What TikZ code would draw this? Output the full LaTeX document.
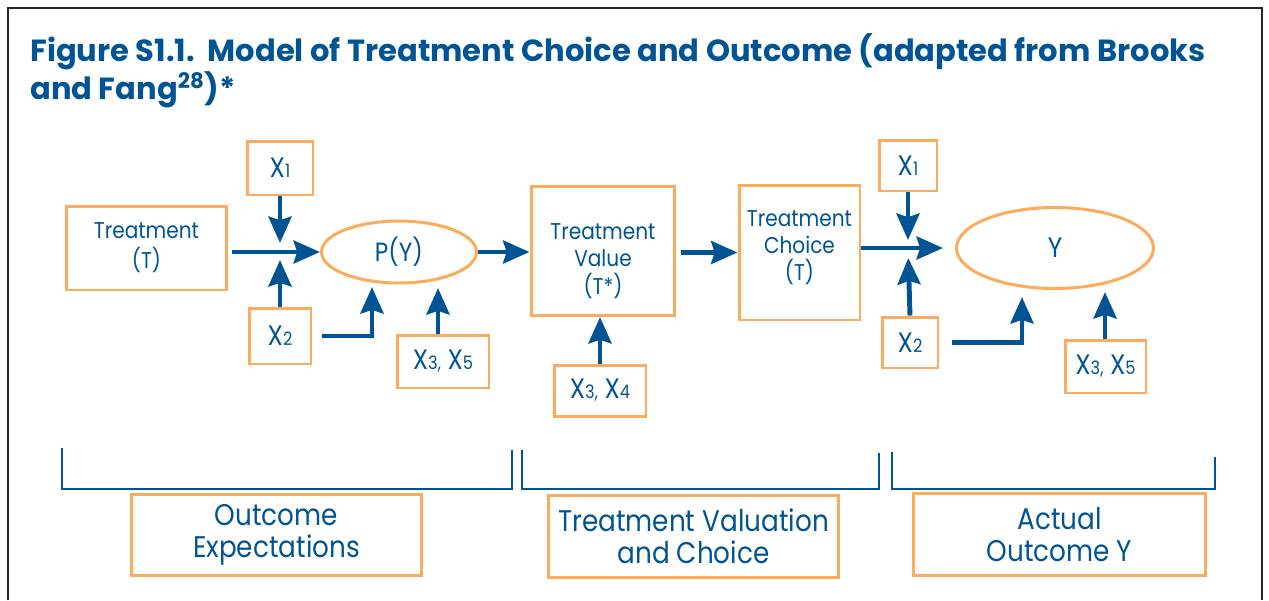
\documentclass[tikz,border=0pt]{standalone}
\usepackage{fontspec}
\setmainfont{Poppins}[FakeStretch=0.88]
\newfontfamily\titlefont{Poppins}
\usepackage{xcolor}
\usetikzlibrary{arrows.meta,shapes.geometric}

\definecolor{figblue}{RGB}{0,84,147}
\definecolor{boxorange}{RGB}{250,172,90}
\newcommand{\xsub}[1]{X{\fontsize{10.5}{10}\selectfont #1}}

\begin{document}
\begin{tikzpicture}[x=0.02cm, y=-0.02cm,
    every node/.style={text=figblue, align=center, font=\fontsize{13}{15.5}\selectfont},
    box/.style={draw=boxorange, line width=1.7pt, rectangle, inner sep=0pt},
    xbox/.style={box, font=\fontsize{16}{17}\selectfont},
    oval/.style={draw=boxorange, line width=1.7pt, ellipse, inner sep=0pt},
    lab/.style={box, minimum height=1.63cm, font=\fontsize{17}{18.5}\selectfont},
    arr/.style={draw=figblue, line width=2.8pt, -{Stealth[length=15pt, width=13pt, inset=2pt]}},
    brk/.style={draw=figblue, line width=1.3pt}]
    \useasboundingbox (0,0) rectangle (1269,600);

    % frame and title
    \draw[line width=1.2pt, black!85] (8,600) -- (8,8) -- (1262,8) -- (1262,600);
    \node[anchor=north west, align=left, inner sep=0pt, font=\titlefont\fontsize{17.4}{17.6}\selectfont\bfseries] (head) at (30,33)
        {Figure S1.1.\ \ Model of Treatment Choice and Outcome (adapted from Brooks\\and Fang\smash{\textsuperscript{28}})*};

    % Define the nodes
    \node[box, minimum width=3.22cm, minimum height=1.68cm, font=\fontsize{13}{17}\selectfont] (T) at (146.5,248) {Treatment\\(T)};
    \node[xbox, minimum width=1.32cm, minimum height=1.08cm] (X1L) at (280,168) {\xsub{1}};
    \node[xbox, minimum width=1.24cm, minimum height=1.12cm] (X2L) at (280,336) {\xsub{2}};
    \node[oval, minimum width=3.10cm, minimum height=1.24cm, font=\fontsize{15}{17}\selectfont] (PY) at (399,252) {P(Y)};
    \node[xbox, minimum width=1.84cm, minimum height=1.06cm] (X35L) at (443,361.5) {\xsub{3,} \xsub{5}};
    \node[box, minimum width=2.88cm, minimum height=2.58cm,
          label={[yshift=-0.2cm]center:Treatment\\Value\\(T*)}] (TV) at (603,251) {};
    \node[xbox, minimum width=1.84cm, minimum height=1.02cm] (X34) at (600,390.5) {\xsub{3,} \xsub{4}};
    \node[box, minimum width=2.42cm, minimum height=2.70cm,
          label={[yshift=0.1cm]center:Treatment\\Choice\\(T)}] (TC) at (799.5,252.5) {};
    \node[xbox, minimum width=1.16cm, minimum height=1.02cm] (X1R) at (908,165.5) {\xsub{1}};
    \node[xbox, minimum width=1.12cm, minimum height=1.02cm] (X2R) at (910,342.5) {\xsub{2}};
    \node[oval, minimum width=3.94cm, minimum height=1.62cm, font=\fontsize{16}{17}\selectfont] (Y) at (1055,248) {Y};
    \node[xbox, minimum width=1.62cm, minimum height=1.06cm] (X35R) at (1105.5,366.5) {\xsub{3,} \xsub{5}};

    % stage labels
    \node[lab, minimum width=5.82cm] (OE) at (276.5,535) {Outcome\\Expectations};
    \node[lab, minimum width=5.82cm] (TVC) at (693.5,536.5) {Treatment Valuation\\and Choice};
    \node[lab, minimum width=5.86cm] (AOY) at (1059.5,534.5) {Actual\\Outcome Y};

    \begin{scope}
    \coordinate (J1) at (280,252);
    \coordinate (J2) at (908,248);
    \coordinate (PYa) at (372,287);
    \coordinate (PYb) at (438,288);
    \coordinate (Ya) at (1022,297);
    \coordinate (Yb) at (1105,292);
    \draw[arr, shorten <=0.08cm] (T.east |- PY.west) -- (PY.west);
    \draw[arr, shorten >=0.18cm] (X1L.south) -- (J1);
    \draw[arr, shorten >=0.16cm] (X2L.north) -- (J1);
    \draw[arr, shorten <=0.2cm] (X2L.east) -| (PYa);
    \draw[arr] (X35L.north -| PYb) -- (PYb);
    \draw[arr] (PY.east) -- (PY.east -| TV.west);
    \draw[arr] (X34.north) -- (X34.north |- TV.south);
    \draw[arr, shorten <=0.1cm] (TV.east |- TC.west) -- (TC.west);
    \draw[arr, shorten >=0.24cm] (TC.east |- Y.west) -- (Y.west);
    \draw[arr, shorten >=0.16cm] (X1R.south) -- (J2);
    \draw[arr, shorten >=0.2cm] (X2R.north) -- (J2);
    \draw[arr, shorten <=0.26cm] (X2R.east) -| (Ya);
    \draw[arr] (X35R.north -| Yb) -- (Yb);
    \end{scope}

    % brackets
    \draw[brk] (62,448) |- (512,489) -- (512,450);
    \draw[brk] (522,450) |- (879,489) -- (879,453);
    \draw[brk] (892,452) |- (1215,489) -- (1215,457);
\end{tikzpicture}
\end{document}
